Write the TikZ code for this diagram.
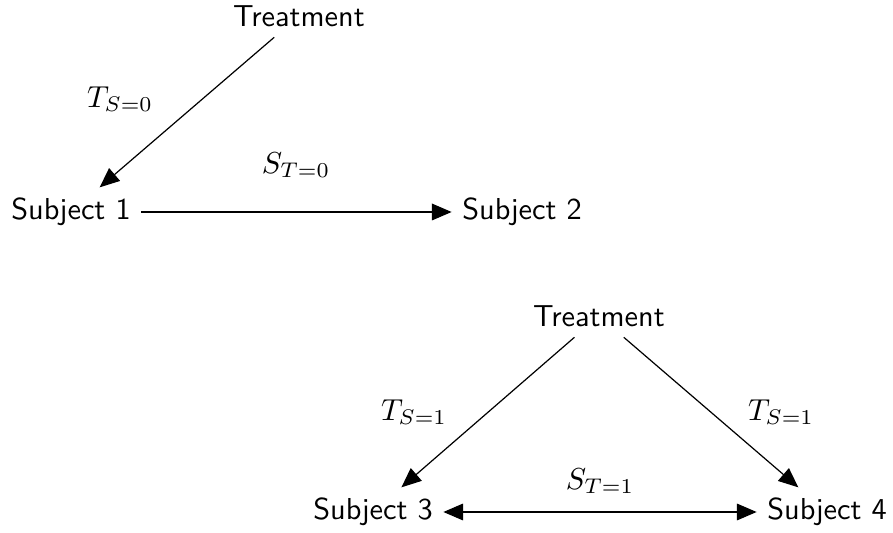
\documentclass[tikz,border=0pt]{standalone}
\usepackage{amsmath}
\usepackage{xcolor}
\usetikzlibrary{positioning,arrows.meta}

\begin{document}
\begin{tikzpicture}[x=0.33pt,y=-0.33pt,
		unit/.style={font=\sffamily},
		effect/.style={-{Triangle[length=6.5pt,width=5.5pt]}},
		both/.style={{Triangle[length=6.5pt,width=5.5pt]}-{Triangle[length=6.5pt,width=5.5pt]}}]
			\useasboundingbox (0,0) rectangle (893,533);
			
			\node[unit](trt0) at (299,16) {Treatment};
			\node[unit](sub1) at (71,212) {Subject 1};
			\node[unit](sub2) at (522,212) {Subject 2};
			
			\node[unit](trt1) at (599,316) {Treatment};
			\node[unit](sub3) at (373,512) {Subject 3};
			\node[unit](sub4) at (827,512) {Subject 4};
			
			\node(ts0) at (120,99) {$T_{S=0}$};
			\node(st0) at (296,165) {$S_{T=0}$};
			\node(ts1a) at (414,412) {$T_{S=1}$};
			\node(ts1b) at (781,412) {$T_{S=1}$};
			\node(st1) at (600,481) {$S_{T=1}$};
			
			\draw[effect] (trt0) -- (sub1);
			\draw[effect] (sub1) -- (sub2);
			
			\draw[effect] (trt1) -- (sub3);
			\draw[effect] (trt1) -- (sub4);
			\draw[both] (sub3) -- (sub4);
		\end{tikzpicture}
\end{document}
